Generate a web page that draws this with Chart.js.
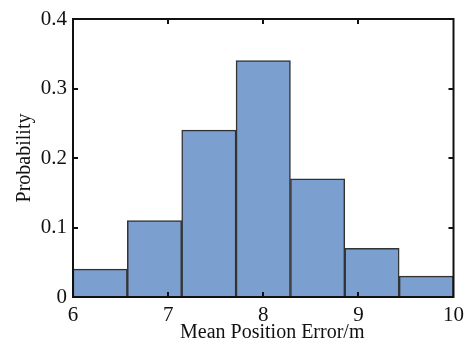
<!DOCTYPE html>
<html>
<head>
<meta charset="utf-8">
<script src="https://cdn.jsdelivr.net/npm/chart.js@4.4.1/dist/chart.umd.min.js"></script>
<style>
html,body{margin:0;padding:0;background:#fff}
#wrap{width:470px;height:342px}
</style>
</head>
<body>
<div id="wrap"><canvas id="chart"></canvas></div>
<script>
// data
const binEdges = [6, 6.571, 7.143, 7.714, 8.286, 8.857, 9.429, 10];
const probability = [0.04, 0.11, 0.24, 0.34, 0.17, 0.07, 0.03];
const xTicks = [6, 7, 8, 9, 10];
const yTicks = [0, 0.1, 0.2, 0.3, 0.4];
const xTitle = "Mean Position Error/m";
const yTitle = "Probability";

const serif = "'Liberation Serif', 'DejaVu Serif', serif";

const bars = probability.map((p, i) => ({x: (binEdges[i] + binEdges[i + 1]) / 2, y: p}));

// frame + inward ticks on all four sides, x title sits a bit right of centre
const framePlugin = {
    id: "frame",
    afterDraw(chart) {
        const ctx = chart.ctx;
        const a = chart.chartArea;
        const xs = chart.scales.x, ys = chart.scales.y;
        ctx.save();
        ctx.strokeStyle = "#111";
        ctx.lineWidth = 2;
        ctx.strokeRect(a.left, a.top, a.right - a.left, a.bottom - a.top);
        ctx.beginPath();
        xTicks.forEach(v => {
            const px = Math.round(xs.getPixelForValue(v));
            if (px <= a.left + 1 || px >= a.right - 1) return;
            ctx.moveTo(px, a.bottom); ctx.lineTo(px, a.bottom - 5);
            ctx.moveTo(px, a.top); ctx.lineTo(px, a.top + 5);
        });
        yTicks.forEach(v => {
            const py = Math.round(ys.getPixelForValue(v));
            if (py <= a.top + 1 || py >= a.bottom - 1) return;
            ctx.moveTo(a.left, py); ctx.lineTo(a.left + 5, py);
            ctx.moveTo(a.right, py); ctx.lineTo(a.right - 5, py);
        });
        ctx.stroke();

        ctx.fillStyle = "#111";
        ctx.font = "20px " + serif;
        ctx.textAlign = "center";
        ctx.textBaseline = "alphabetic";
        ctx.fillText(xTitle, (a.left + a.right) / 2 + 9, 338);
        ctx.restore();
    }
};

new Chart(document.getElementById("chart"), {
    type: "bar",
    data: {
        datasets: [{
            data: bars,
            backgroundColor: "#7b9fce",
            borderColor: "#333333",
            borderWidth: 1.5,
            barPercentage: 1,
            categoryPercentage: 1
        }]
    },
    options: {
        responsive: true,
        maintainAspectRatio: false,
        animation: false,
        layout: {padding: {top: 19, right: 15, left: 0, bottom: 0}},
        plugins: {legend: {display: false}, tooltip: {enabled: false}},
        scales: {
            x: {
                type: "linear",
                min: 6,
                max: 10,
                offset: false,
                grid: {display: false, drawTicks: false, offset: false},
                border: {display: false},
                afterBuildTicks: s => { s.ticks = xTicks.map(v => ({value: v})); },
                afterFit: s => { s.height = 45; },
                ticks: {
                    color: "#111",
                    padding: 6,
                    maxRotation: 0,
                    font: {family: serif, size: 21},
                    callback: v => String(v)
                }
            },
            y: {
                min: 0,
                max: 0.4,
                grid: {display: false, drawTicks: false},
                border: {display: false},
                afterBuildTicks: s => { s.ticks = yTicks.map(v => ({value: v})); },
                afterFit: s => { s.width = 73; },
                ticks: {
                    color: "#111",
                    padding: 6,
                    font: {family: serif, size: 21},
                    callback: v => v === 0 ? "0" : v.toFixed(1)
                },
                title: {
                    display: true,
                    text: yTitle,
                    color: "#111",
                    padding: {top: 13, bottom: 0},
                    font: {family: serif, size: 20}
                }
            }
        }
    },
    plugins: [framePlugin]
});
</script>
</body>
</html>
